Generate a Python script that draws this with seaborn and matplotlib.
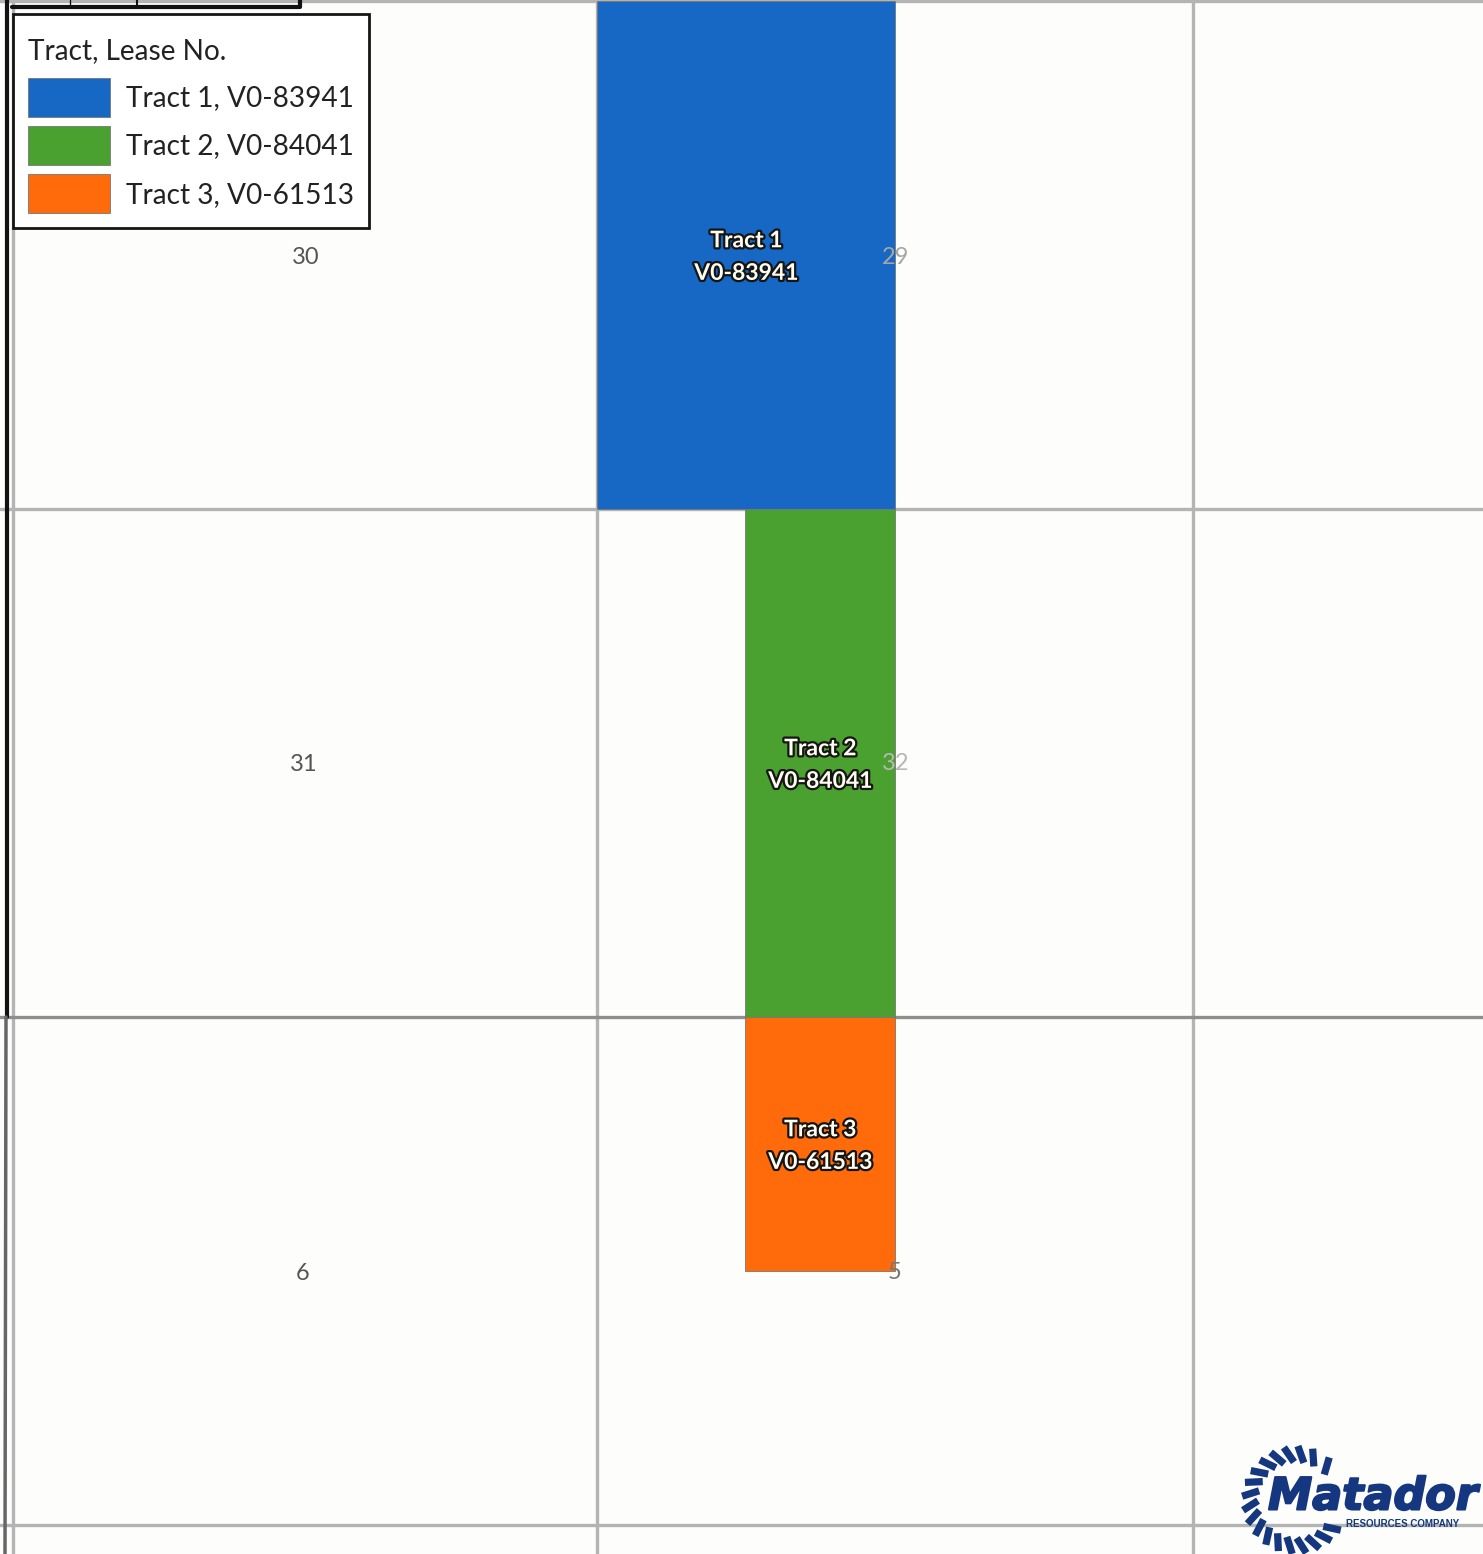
import numpy as np
import matplotlib.pyplot as plt
import matplotlib.patheffects as pe
import pandas as pd
import seaborn as sns

# tract extents, in sections of the plat
tract_names = ['Tract 1', 'Tract 2', 'Tract 3']
lease_nos = ['V0-83941', 'V0-84041', 'V0-61513']
tract_left = [1.0, 1.248, 1.248]
tract_right = [1.499, 1.4985, 1.4985]
tract_top = [0.0, 1.0, 2.0]
tract_bottom = [1.0, 2.0, 2.5]
tract_colors = ['#1668C4', '#4BA12F', '#FF6A0B']

# section numbers
section_nos = ['30', '29', '31', '32', '6', '5']
section_x = [0.513, 1.5, 0.509, 1.5, 0.508, 1.497]
section_y = [0.505, 0.505, 1.503, 1.501, 2.505, 2.503]
section_shade = ['#555555', '#A5A5A5', '#555555', '#B8B8B8', '#555555', '#777777']

section_lines_x = [0.024, 1.0, 1.997]
section_lines_y = [0.0, 1.0, 2.0, 3.0]

gear_angles = [42, 62, 78, 93, 108, 122, 137, 151, 166, 181, 196, 211, 226, 241, 256, 271, 286, 301, 316]

sns.set_theme(style='white')
plt.rcParams['font.family'] = ['Lato', 'DejaVu Sans']

df = pd.DataFrame({'name': tract_names, 'lease': lease_nos, 'left': tract_left,
                   'right': tract_right, 'top': tract_top, 'bottom': tract_bottom,
                   'color': tract_colors})
df['center'] = (df['left'] + df['right']) / 2
df['width'] = df['right'] - df['left']
df['height'] = df['bottom'] - df['top']

fig = plt.figure(figsize=(14.83, 15.54), dpi=100, facecolor='#FDFDFB')
ax = fig.add_axes([0, 0, 1, 1], facecolor='#FDFDFB')

for x in section_lines_x:
    ax.axvline(x, color='#B4B4B4', lw=2.4, zorder=1)
for y in section_lines_y:
    ax.axhline(y, color='#8E8E8E' if y == 2.0 else '#B4B4B4', lw=2.4, zorder=1)

for sec, x, y, shade in zip(section_nos, section_x, section_y, section_shade):
    ax.text(x, y, sec, ha='center', va='center', fontsize=17, color=shade, zorder=4)

for _, row in df.iterrows():
    sns.barplot(x=[row['center']], y=[row['height']], bottom=row['top'], width=row['width'],
                native_scale=True, color=row['color'], saturation=1, ax=ax, zorder=3,
                edgecolor='#777777', linewidth=0.6, err_kws={'linewidth': 0},
                label=f"{row['name']}, {row['lease']}")
    ax.text(row['center'], (row['top'] + row['bottom']) / 2 + 0.004, f"{row['name']}\n{row['lease']}",
            ha='center', va='center', fontsize=16.5, fontweight='bold', color='#FFFDF0',
            linespacing=1.68, zorder=5,
            path_effects=[pe.withStroke(linewidth=3.2, foreground='#151515')])

ax.set_xlim(0.0017, 2.4816)
ax.set_ylim(3.057, -0.002)
ax.set_xlabel('')
ax.set_ylabel('')
ax.set_xticks([])
ax.set_yticks([])
sns.despine(ax=ax, left=True, bottom=True)

leg = ax.legend(loc='upper left', bbox_to_anchor=(13 / 1483, 1 - 14 / 1554), title='Tract, Lease No.',
                fontsize=20.2, title_fontsize=20.2, alignment='left', frameon=True, fancybox=False,
                framealpha=1, facecolor='white', edgecolor='#151515', borderpad=0.55,
                handlelength=2.9, handleheight=1.77, handletextpad=0.56, labelspacing=0.32,
                borderaxespad=0)
leg.get_frame().set_linewidth(2)
leg.set_zorder(6)
leg._legend_box.sep = 16
leg.get_title().set_y(-9)
for t in leg.get_texts() + [leg.get_title()]:
    t.set_color('#222222')

# overlay in pixels for the scan border, the cut off box and the logo
over = fig.add_axes([0, 0, 1, 1], facecolor='none')
over.set_xlim(0, 1483)
over.set_ylim(1554, 0)
over.axis('off')

over.plot([7, 7], [0, 1017], color='#111111', lw=3)
over.plot([6, 5], [1017, 1554], color='#666666', lw=2.5)
over.plot([12, 300, 300], [7, 7, 0], color='#111111', lw=3)
over.plot([70, 70], [0, 6], color='#111111', lw=1)
over.plot([137, 137], [0, 7], color='#111111', lw=1.5)

logo_color = '#14377F'
cx, cy = 1296, 1500
for a in gear_angles:
    t0, t1 = np.deg2rad(a), np.deg2rad(a + 10)
    over.plot([cx + 38 * np.cos(t0), cx + 54 * np.cos(t1)],
              [cy - 38 * np.sin(t0), cy - 54 * np.sin(t1)],
              color=logo_color, lw=5.2, solid_capstyle='butt', zorder=7)
over.text(1373, 1497, 'Matador', ha='center', va='center', fontsize=32, color=logo_color,
          fontweight='bold', fontstyle='italic', family=['DejaVu Sans'], zorder=8,
          path_effects=[pe.withStroke(linewidth=1.5, foreground=logo_color)])
over.text(1403, 1524, 'RESOURCES COMPANY', ha='center', va='center', fontsize=7, color=logo_color,
          fontweight='bold', family=['Liberation Sans', 'DejaVu Sans'], zorder=8)

fig.savefig('out.png', dpi=100, facecolor=fig.get_facecolor())
